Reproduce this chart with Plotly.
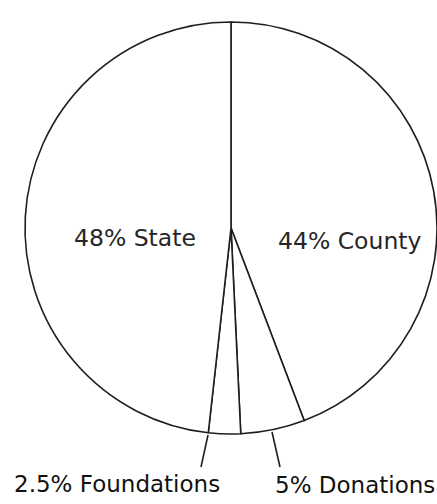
import plotly.graph_objects as go

# ---- data ----
categories = ["County", "Donations", "Foundations", "State"]
percentages = [44, 5, 2.5, 48]

# ---- layout geometry (pixels) ----
W, H = 437, 504
L, T, S = 25, 22, 412          # left margin, top margin, plot square size
B = H - T - S


def px(x):
    return (x - L) / S


def py(y):
    return (T + S - y) / S


labels_text = [f"{p:g}% {c}" for p, c in zip(percentages, categories)]

fig = go.Figure(
    go.Pie(
        labels=categories,
        values=percentages,
        sort=False,
        direction="clockwise",
        rotation=0,
        textinfo="none",
        hoverinfo="none",
        showlegend=False,
        marker=dict(colors=["white"] * len(categories),
                    line=dict(color="#1e1e1e", width=1.6)),
        domain=dict(x=[0, 1], y=[0, 1]),
    )
)

# label positions (pixel centres)
label_pos = {
    "County": (349, 241),
    "Donations": (355, 485),
    "Foundations": (117, 484),
    "State": (135, 238),
}
label_size = {"County": 23.5, "State": 23.5, "Donations": 23, "Foundations": 23}
label_color = {"County": "#262626", "State": "#262626",
               "Donations": "#111111", "Foundations": "#111111"}

for cat, txt in zip(categories, labels_text):
    x, y = label_pos[cat]
    fig.add_annotation(x=px(x), y=py(y), xref="paper", yref="paper",
                       text=txt, showarrow=False,
                       font=dict(family="DejaVu Sans", size=label_size[cat],
                                 color=label_color[cat]),
                       xanchor="center", yanchor="middle")

# short leader lines for the two thin slices
leaders = [((208, 435), (201, 467)), ((272, 432), (280, 467))]
for (x0, y0), (x1, y1) in leaders:
    fig.add_shape(type="line", xref="paper", yref="paper",
                  x0=px(x0), y0=py(y0), x1=px(x1), y1=py(y1),
                  line=dict(color="#1e1e1e", width=1.6))

fig.update_layout(
    width=W, height=H,
    margin=dict(l=L, r=0, t=T, b=B, pad=0),
    paper_bgcolor="white",
    plot_bgcolor="white",
)

fig.write_html(
    "out.html",
    config={"displayModeBar": False},
    post_script="document.body.style.margin='0';document.body.style.overflow='hidden';",
)
